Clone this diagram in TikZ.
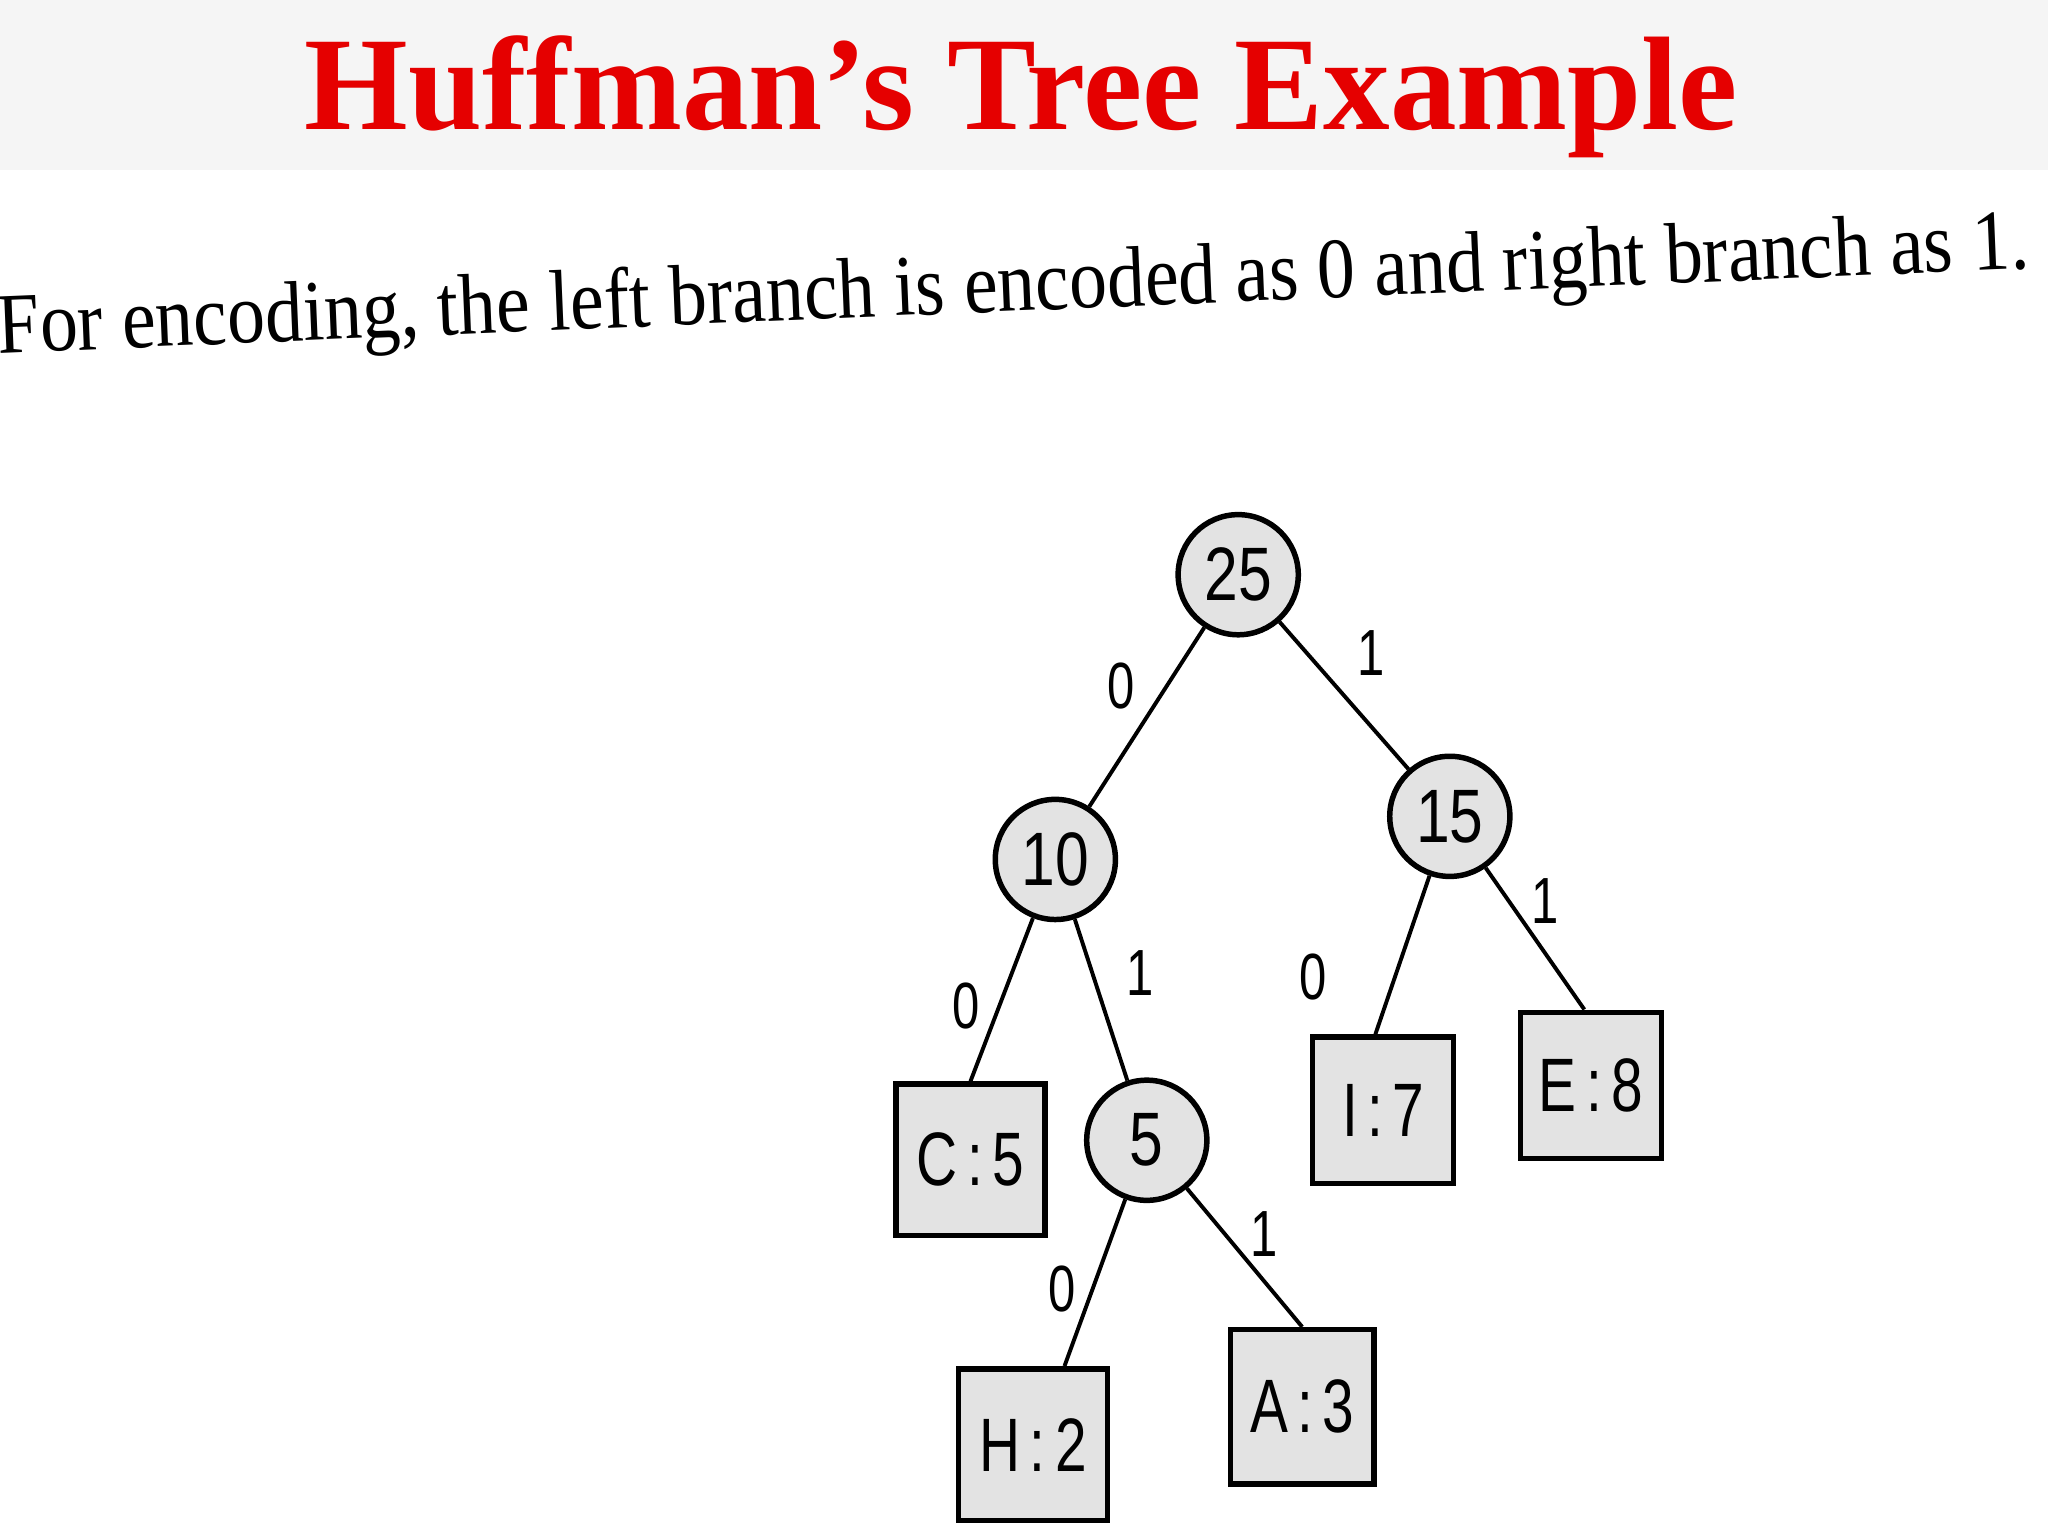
\documentclass[tikz,border=0pt]{standalone}
\usepackage{fontspec}
\setmainfont{Liberation Serif}
\setsansfont{Liberation Sans}
\begin{document}
\begin{tikzpicture}[x=1pt,y=-1pt,
  inode/.style={circle,draw,line width=4.2pt,fill=gray!22,minimum size=92pt,inner sep=0pt,font=\sffamily\fontsize{58}{58}\selectfont},
  leaf/.style={rectangle,draw,line width=4.2pt,fill=gray!22,minimum width=108pt,minimum height=112pt,inner sep=0pt,font=\sffamily\fontsize{58}{58}\selectfont},
  edge/.style={line width=3pt},
  elab/.style={font=\sffamily\fontsize{50}{50}\selectfont,xscale=0.75}]
\useasboundingbox (0,0) rectangle (1568,1176);
\fill[white] (0,0) rectangle (1568,1176);
\fill[gray!8] (0,0) rectangle (1568,130);
\node[text=red!90!black,font=\bfseries\fontsize{102}{102}\selectfont] (title) at (782,74) {Huffman’s Tree Example};
\node[rotate=2.4,font=\fontsize{66}{66}\selectfont,xscale=0.88] (sub) at (776,222) {For encoding, the left branch is encoded as 0 and right branch as 1.};
\node[inode] (n25) at (948,440) {\scalebox{0.8}[1]{25}};
\node[inode] (n10) at (808,658) {\scalebox{0.8}[1]{10}};
\node[inode] (n15) at (1110,625) {\scalebox{0.8}[1]{15}};
\node[inode] (n5) at (878,873) {\scalebox{0.8}[1]{5}};
\node[leaf,minimum width=114pt,minimum height=116pt] (C) at (743,888) {\scalebox{0.75}[1]{C\,:\,5}};
\node[leaf] (I) at (1059,850) {\scalebox{0.75}[1]{I\,:\,7}};
\node[leaf] (E) at (1218,831) {\scalebox{0.75}[1]{E\,:\,8}};
\node[leaf,minimum width=114pt,minimum height=116pt] (H) at (791,1106) {\scalebox{0.75}[1]{H\,:\,2}};
\node[leaf,minimum width=110pt,minimum height=118pt] (A) at (997,1077) {\scalebox{0.75}[1]{A\,:\,3}};
\draw[edge] (n25) -- (n10);
\draw[edge] (n25) -- (n15);
\draw[edge] (n10) -- (C.north);
\draw[edge] (n10) -- (n5);
\draw[edge] (n15) -- ([xshift=-6pt]I.north);
\draw[edge] (n15) -- ([xshift=-5pt]E.north);
\draw[edge] (n5) -- ([xshift=24pt]H.north);
\draw[edge] (n5) -- (A.north);
\node[elab] (l1) at (858,525) {0};
\node[elab] (l2) at (1050,500) {1};
\node[elab] (l3) at (740,770) {0};
\node[elab] (l4) at (873,745) {1};
\node[elab] (l5) at (1005,748) {0};
\node[elab] (l6) at (1183,690) {1};
\node[elab] (l7) at (813,987) {0};
\node[elab] (l8) at (968,945) {1};
\end{tikzpicture}
\end{document}
